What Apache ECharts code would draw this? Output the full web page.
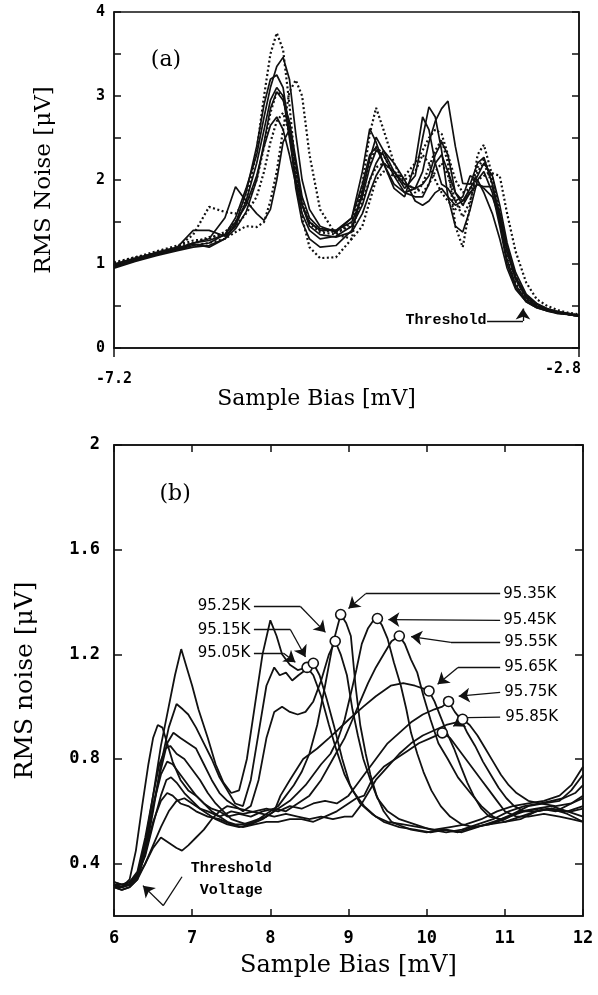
<!DOCTYPE html>
<html><head><meta charset="utf-8">
<script src="https://cdn.jsdelivr.net/npm/echarts@6/dist/echarts.min.js"></script>
<style>html,body{margin:0;padding:0;background:#fff}#c{width:598px;height:995px}</style>
</head><body><div id="c"></div>
<script>
// ---------- Panel (a) : shared x grid (mV) ----------
const xA = [-7.2,-7.0,-6.8,-6.6,-6.45,-6.3,-6.15,-6.05,
  -5.95,-5.85,-5.78,-5.72,-5.66,-5.6,-5.54,-5.48,
  -5.42,-5.35,-5.25,-5.1,-4.95,-4.85,-4.78,-4.72,
  -4.65,-4.55,-4.45,-4.35,-4.28,-4.22,-4.16,-4.1,
  -4.04,-3.97,-3.9,-3.83,-3.76,-3.7,-3.62,-3.55,
  -3.48,-3.4,-3.3,-3.2,-3.1,-3.0,-2.9,-2.8];
const aD1 = [1.02,1.08,1.13,1.2,1.35,1.68,1.62,1.6, 1.75,2.35,3.0,3.5,3.75,3.55,2.9,2.1, 1.55,1.2,1.07,1.08,1.3,1.95,2.55,2.86, 2.6,2.2,1.95,1.85,1.95,2.15,2.35,2.48, 2.2,1.45,1.2,1.7,2.3,2.42,2.05,1.6, 1.15,0.82,0.6,0.5,0.45,0.42,0.4,0.38];
const aD2 = [0.98,1.06,1.12,1.18,1.22,1.25,1.3,1.38, 1.45,1.44,1.5,1.75,2.1,2.6,3.05,3.19, 3.0,2.3,1.65,1.35,1.3,1.45,1.75,2.0, 2.1,2.05,2.05,2.2,2.35,2.5,2.6,2.55, 2.3,2.0,1.85,1.9,2.0,2.05,2.08,2.05, 1.6,1.15,0.78,0.58,0.5,0.45,0.42,0.4];
const aD3 = [1.0,1.08,1.15,1.22,1.28,1.3,1.38,1.5, 1.72,2.0,2.4,2.8,3.05,3.0,2.6,2.05, 1.7,1.48,1.38,1.35,1.5,1.9,2.2,2.4, 2.3,2.05,1.95,1.9,1.85,1.95,2.1,2.2, 2.05,1.75,1.56,1.75,2.1,2.2,1.95,1.55, 1.1,0.78,0.58,0.5,0.45,0.42,0.4,0.38];
const aD4 = [0.98,1.05,1.12,1.2,1.25,1.32,1.35,1.45, 1.6,1.8,2.1,2.45,2.7,2.8,2.55,2.1, 1.75,1.5,1.4,1.38,1.45,1.75,2.0,2.15, 2.2,2.1,2.0,2.1,2.3,2.2,2.0,1.85, 1.75,1.65,1.7,1.9,2.15,2.25,2.0,1.6, 1.2,0.85,0.62,0.52,0.46,0.43,0.41,0.39];
const aS1 = [0.97,1.05,1.12,1.17,1.22,1.25,1.35,1.55, 1.9,2.3,2.75,3.1,3.35,3.46,3.2,2.55, 2.0,1.65,1.45,1.38,1.55,2.1,2.61,2.45, 2.2,1.95,1.85,1.9,2.1,2.45,2.7,2.85, 2.94,2.4,1.96,1.95,2.2,2.27,1.95,1.5, 1.05,0.75,0.57,0.49,0.45,0.42,0.4,0.38];
const aS2 = [0.95,1.03,1.1,1.16,1.2,1.22,1.3,1.48, 1.85,2.4,2.9,3.2,3.25,3.1,2.6,1.9, 1.5,1.3,1.2,1.22,1.4,1.85,2.25,2.51, 2.35,2.1,1.9,2.05,2.5,2.87,2.75,2.35, 1.8,1.45,1.38,1.65,2.0,2.1,1.85,1.45, 1.0,0.72,0.55,0.48,0.44,0.42,0.4,0.38];
const aS3 = [0.98,1.06,1.14,1.2,1.4,1.4,1.33,1.45, 1.75,2.2,2.6,2.95,3.1,3.0,2.5,2.0, 1.7,1.5,1.4,1.4,1.55,1.95,2.3,2.39, 2.2,1.9,1.8,2.2,2.75,2.6,2.2,1.95, 1.9,1.75,1.8,2.05,2.0,1.85,1.6,1.3, 0.95,0.7,0.55,0.48,0.44,0.41,0.4,0.38];
const aS4 = [1.0,1.07,1.13,1.18,1.25,1.3,1.55,1.92, 1.75,1.6,1.52,1.65,2.0,2.45,2.6,2.2, 1.7,1.45,1.35,1.32,1.38,1.6,1.85,2.05, 2.2,2.1,1.95,1.9,1.95,2.05,2.3,2.45, 2.3,1.85,1.7,1.85,1.95,1.92,1.92,1.6, 1.2,0.85,0.62,0.52,0.46,0.43,0.41,0.39];
const aS5 = [0.96,1.04,1.11,1.17,1.24,1.2,1.3,1.42, 1.62,2.0,2.45,2.85,3.05,2.95,2.7,2.25, 1.8,1.55,1.42,1.4,1.5,1.8,2.15,2.35, 2.3,2.05,1.85,1.8,1.8,1.95,2.2,2.3, 2.1,1.85,1.75,1.9,2.05,2.2,2.05,1.7, 1.25,0.9,0.64,0.53,0.47,0.43,0.41,0.39];
const aS6 = [0.99,1.06,1.12,1.19,1.25,1.28,1.35,1.5, 1.7,2.05,2.4,2.65,2.75,2.6,2.3,1.95, 1.6,1.4,1.3,1.33,1.45,1.7,2.0,2.2, 2.35,2.2,2.0,1.75,1.7,1.75,1.85,1.9, 1.8,1.7,1.75,1.85,1.95,1.9,1.8,1.55, 1.15,0.82,0.6,0.5,0.45,0.42,0.4,0.38];
const aDotted = [aD1, aD2, aD3, aD4];
const aSolid = [aS1, aS2, aS3, aS4, aS5, aS6];

// ---------- Panel (b) : curves [bias mV, RMS noise uV] ----------
const b9505 = [[6.0,0.32],[6.1,0.31],[6.2,0.32],[6.3,0.36],[6.4,0.48],[6.5,0.66],[6.6,0.85],[6.7,1.0],[6.78,1.12],[6.86,1.22],[6.93,1.15],[7.0,1.08],[7.08,0.99],[7.2,0.88],[7.3,0.78],[7.4,0.71],[7.5,0.67],[7.6,0.68],[7.7,0.8],[7.8,1.0],[7.9,1.2],[8.0,1.33],[8.08,1.27],[8.15,1.2],[8.25,1.16],[8.35,1.14],[8.47,1.15],[8.55,1.12],[8.65,1.04],[8.75,0.93],[8.85,0.83],[8.95,0.74],[9.05,0.68],[9.2,0.62],[9.35,0.58],[9.5,0.56],[9.7,0.55],[9.9,0.54],[10.1,0.53],[10.3,0.54],[10.5,0.55],[10.7,0.57],[10.9,0.6],[11.1,0.62],[11.3,0.63],[11.5,0.64],[11.7,0.66],[11.85,0.7],[12.0,0.77]];
const b9515 = [[6.0,0.31],[6.1,0.30],[6.2,0.31],[6.3,0.34],[6.4,0.44],[6.5,0.6],[6.6,0.78],[6.7,0.92],[6.8,1.01],[6.88,0.99],[6.95,0.97],[7.05,0.92],[7.15,0.86],[7.25,0.8],[7.35,0.73],[7.45,0.68],[7.55,0.63],[7.65,0.62],[7.75,0.72],[7.85,0.9],[7.95,1.08],[8.05,1.15],[8.12,1.12],[8.2,1.13],[8.28,1.1],[8.36,1.12],[8.45,1.14],[8.55,1.166],[8.63,1.12],[8.72,1.03],[8.82,0.92],[8.92,0.8],[9.02,0.7],[9.15,0.63],[9.3,0.59],[9.45,0.56],[9.65,0.54],[9.85,0.53],[10.05,0.52],[10.25,0.53],[10.45,0.52],[10.65,0.54],[10.85,0.56],[11.05,0.58],[11.25,0.6],[11.45,0.61],[11.65,0.6],[11.85,0.63],[12.0,0.66]];
const b9525 = [[6.0,0.33],[6.1,0.32],[6.2,0.32],[6.3,0.35],[6.4,0.45],[6.5,0.62],[6.6,0.76],[6.68,0.86],[6.76,0.9],[6.85,0.88],[6.95,0.86],[7.05,0.84],[7.15,0.78],[7.25,0.72],[7.35,0.67],[7.45,0.64],[7.55,0.62],[7.65,0.6],[7.75,0.62],[7.85,0.72],[7.95,0.88],[8.05,0.98],[8.15,1.0],[8.25,0.98],[8.35,0.97],[8.45,0.98],[8.55,1.02],[8.65,1.1],[8.75,1.2],[8.83,1.25],[8.9,1.2],[8.98,1.12],[9.05,0.99],[9.12,0.89],[9.19,0.8],[9.28,0.72],[9.37,0.65],[9.5,0.6],[9.65,0.57],[9.85,0.55],[10.05,0.53],[10.25,0.52],[10.45,0.53],[10.65,0.55],[10.85,0.57],[11.05,0.6],[11.25,0.62],[11.45,0.63],[11.65,0.62],[11.85,0.63],[12.0,0.65]];
const b9535 = [[6.0,0.31],[6.1,0.31],[6.2,0.33],[6.3,0.37],[6.4,0.5],[6.5,0.66],[6.58,0.78],[6.66,0.84],[6.72,0.85],[6.8,0.82],[6.9,0.8],[7.0,0.76],[7.1,0.72],[7.2,0.67],[7.3,0.63],[7.4,0.6],[7.5,0.57],[7.6,0.56],[7.7,0.55],[7.8,0.56],[7.9,0.58],[8.0,0.6],[8.1,0.62],[8.2,0.66],[8.3,0.7],[8.4,0.75],[8.5,0.82],[8.6,0.93],[8.7,1.08],[8.8,1.24],[8.9,1.352],[8.97,1.32],[9.03,1.27],[9.09,1.08],[9.15,0.93],[9.22,0.82],[9.28,0.74],[9.36,0.66],[9.45,0.6],[9.55,0.56],[9.67,0.545],[9.8,0.53],[10.0,0.52],[10.2,0.53],[10.4,0.52],[10.6,0.54],[10.8,0.55],[11.0,0.57],[11.2,0.6],[11.4,0.61],[11.6,0.62],[11.8,0.6],[12.0,0.62]];
const b9545 = [[6.0,0.32],[6.1,0.31],[6.2,0.32],[6.3,0.36],[6.4,0.47],[6.5,0.62],[6.6,0.74],[6.68,0.79],[6.75,0.78],[6.85,0.74],[6.95,0.7],[7.05,0.66],[7.15,0.63],[7.25,0.6],[7.35,0.58],[7.45,0.56],[7.55,0.55],[7.65,0.55],[7.75,0.56],[7.85,0.57],[7.95,0.58],[8.05,0.6],[8.15,0.62],[8.25,0.64],[8.35,0.67],[8.45,0.7],[8.55,0.74],[8.65,0.78],[8.77,0.82],[8.87,0.88],[8.95,0.95],[9.03,1.05],[9.1,1.14],[9.17,1.24],[9.25,1.3],[9.32,1.33],[9.37,1.337],[9.43,1.31],[9.5,1.26],[9.58,1.17],[9.67,1.08],[9.74,0.99],[9.8,0.9],[9.88,0.82],[9.96,0.75],[10.06,0.68],[10.18,0.62],[10.3,0.58],[10.45,0.55],[10.6,0.54],[10.8,0.55],[11.0,0.56],[11.2,0.58],[11.4,0.6],[11.6,0.61],[11.8,0.6],[12.0,0.58]];
const b9555 = [[6.0,0.31],[6.1,0.31],[6.2,0.34],[6.28,0.45],[6.36,0.62],[6.44,0.78],[6.5,0.88],[6.56,0.93],[6.62,0.92],[6.68,0.86],[6.75,0.79],[6.85,0.72],[6.95,0.68],[7.05,0.66],[7.15,0.63],[7.25,0.61],[7.35,0.6],[7.45,0.58],[7.6,0.59],[7.75,0.58],[7.9,0.6],[8.05,0.61],[8.2,0.6],[8.35,0.63],[8.5,0.66],[8.65,0.72],[8.8,0.8],[8.95,0.88],[9.05,0.95],[9.15,1.02],[9.25,1.09],[9.35,1.15],[9.45,1.2],[9.55,1.25],[9.65,1.27],[9.72,1.24],[9.8,1.18],[9.88,1.13],[9.96,1.04],[10.05,0.95],[10.15,0.86],[10.27,0.8],[10.4,0.73],[10.56,0.67],[10.7,0.62],[10.85,0.58],[11.0,0.56],[11.2,0.57],[11.4,0.6],[11.6,0.61],[11.8,0.59],[12.0,0.56]];
const b9565 = [[6.0,0.32],[6.1,0.32],[6.2,0.33],[6.3,0.36],[6.4,0.43],[6.5,0.55],[6.6,0.66],[6.67,0.72],[6.73,0.73],[6.8,0.71],[6.9,0.67],[7.0,0.64],[7.1,0.61],[7.2,0.59],[7.3,0.57],[7.45,0.55],[7.6,0.54],[7.75,0.55],[7.9,0.57],[8.05,0.6],[8.13,0.66],[8.25,0.72],[8.42,0.8],[8.6,0.84],[8.75,0.88],[8.86,0.91],[9.0,0.95],[9.19,1.0],[9.35,1.04],[9.54,1.08],[9.7,1.09],[9.85,1.08],[9.95,1.07],[10.03,1.06],[10.1,1.02],[10.18,0.96],[10.26,0.9],[10.35,0.84],[10.44,0.77],[10.52,0.71],[10.6,0.66],[10.7,0.61],[10.8,0.58],[10.95,0.57],[11.1,0.59],[11.3,0.62],[11.5,0.63],[11.7,0.64],[11.85,0.68],[12.0,0.74]];
const b9575 = [[6.0,0.33],[6.1,0.32],[6.2,0.33],[6.3,0.35],[6.4,0.4],[6.5,0.47],[6.6,0.54],[6.7,0.6],[6.8,0.64],[6.9,0.65],[7.0,0.63],[7.1,0.61],[7.2,0.6],[7.35,0.58],[7.5,0.6],[7.65,0.59],[7.8,0.6],[7.95,0.61],[8.1,0.6],[8.25,0.62],[8.4,0.61],[8.55,0.63],[8.7,0.64],[8.85,0.63],[9.0,0.66],[9.1,0.7],[9.2,0.74],[9.35,0.8],[9.5,0.86],[9.65,0.9],[9.8,0.94],[9.95,0.97],[10.1,0.99],[10.2,1.0],[10.28,1.02],[10.36,0.98],[10.44,0.95],[10.52,0.9],[10.62,0.85],[10.72,0.79],[10.82,0.74],[10.92,0.69],[11.02,0.65],[11.12,0.62],[11.25,0.6],[11.4,0.6],[11.55,0.61],[11.7,0.6],[11.85,0.6],[12.0,0.61]];
const b9585 = [[6.0,0.31],[6.1,0.3],[6.2,0.31],[6.3,0.34],[6.4,0.4],[6.5,0.46],[6.6,0.5],[6.7,0.48],[6.8,0.46],[6.87,0.45],[6.95,0.47],[7.05,0.5],[7.15,0.53],[7.25,0.57],[7.35,0.6],[7.45,0.62],[7.6,0.61],[7.75,0.6],[7.9,0.59],[8.05,0.58],[8.2,0.59],[8.35,0.58],[8.5,0.57],[8.65,0.58],[8.8,0.57],[8.95,0.58],[9.05,0.58],[9.15,0.62],[9.25,0.67],[9.35,0.72],[9.5,0.77],[9.65,0.82],[9.8,0.86],[9.95,0.89],[10.1,0.91],[10.25,0.93],[10.38,0.94],[10.46,0.952],[10.55,0.93],[10.65,0.89],[10.75,0.84],[10.85,0.79],[10.95,0.74],[11.05,0.7],[11.15,0.67],[11.3,0.64],[11.45,0.63],[11.6,0.64],[11.75,0.65],[11.9,0.67],[12.0,0.7]];
const bExtra = [[6.0,0.32],[6.1,0.31],[6.2,0.32],[6.3,0.35],[6.4,0.44],[6.5,0.56],[6.6,0.64],[6.68,0.67],[6.75,0.66],[6.85,0.63],[6.95,0.62],[7.05,0.6],[7.2,0.58],[7.35,0.57],[7.5,0.55],[7.65,0.54],[7.8,0.55],[7.95,0.56],[8.1,0.56],[8.25,0.57],[8.4,0.57],[8.55,0.56],[8.7,0.58],[8.85,0.6],[9.0,0.63],[9.1,0.65],[9.2,0.66],[9.3,0.72],[9.45,0.77],[9.6,0.8],[9.75,0.83],[9.9,0.86],[10.05,0.88],[10.2,0.9],[10.3,0.88],[10.4,0.84],[10.5,0.8],[10.6,0.76],[10.7,0.72],[10.8,0.68],[10.9,0.64],[11.0,0.6],[11.15,0.58],[11.3,0.58],[11.5,0.59],[11.7,0.58],[11.85,0.57],[12.0,0.56]];
const bCurves = [b9505,b9515,b9525,b9535,b9545,b9555,b9565,b9575,b9585,bExtra];
const bPeaks = [[8.47,1.15],[8.55,1.166],[8.83,1.25],[8.90,1.352],[9.37,1.337],[9.65,1.27],[10.03,1.06],[10.28,1.02],[10.46,0.952],[10.2,0.90]];

// temperature labels: [text, x, y] (left edge of text)
const tempLabels = [["95.25K",7.064,1.383],["95.15K",7.064,1.291],["95.05K",7.064,1.204],
  ["95.35K",10.974,1.432],["95.45K",10.974,1.330],["95.55K",10.987,1.246],
  ["95.65K",10.987,1.150],["95.75K",10.987,1.055],["95.85K",11.0,0.960]];
// leader arrows (data coordinates), arrowhead at last point
const tempArrows = [
  [[7.79,1.383],[8.385,1.383],[8.705,1.284]],
  [[7.79,1.295],[8.256,1.295],[8.45,1.19]],
  [[7.79,1.204],[8.17,1.204],[8.32,1.17]],
  [[10.94,1.432],[9.22,1.432],[9.0,1.375]],
  [[10.94,1.330],[9.51,1.333]],
  [[10.94,1.246],[10.31,1.246],[9.80,1.268]],
  [[10.94,1.150],[10.40,1.150],[10.14,1.086]],
  [[10.94,1.055],[10.41,1.040]],
  [[10.94,0.960],[10.52,0.958],[10.34,0.925]]
];
const thrArrowB = [[6.87,0.35],[6.63,0.24],[6.37,0.316]];
const thrArrowA = [[-3.67,0.32],[-3.33,0.32],[-3.33,0.47]];

const aTicksX = [-7.2,-2.8];
const bTicksY = [0.4,0.8,1.2,1.6,2];

const tickFont = 'DejaVu Sans Mono';
const serif = 'DejaVu Serif';
const ink = '#111';

// split polylines into plain segments + a final arrow segment
function segs(polys){
  const plain = [], head = [];
  polys.forEach(p => {
    for (let i = 0; i < p.length - 1; i++) {
      const s = {coords:[p[i], p[i+1]]};
      if (i === p.length - 2) head.push(s); else plain.push(s);
    }
  });
  return {plain, head};
}
function arrowSeries(xi, yi, polys){
  const s = segs(polys);
  return [
    {type:'lines', coordinateSystem:'cartesian2d', xAxisIndex:xi, yAxisIndex:yi, symbol:['none','none'],
     lineStyle:{color:ink, width:1.3, opacity:1, curveness:0}, data:s.plain, z:4, silent:true},
    {type:'lines', coordinateSystem:'cartesian2d', xAxisIndex:xi, yAxisIndex:yi, symbol:['none','arrow'], symbolSize:[7,11],
     lineStyle:{color:ink, width:1.3, opacity:1, curveness:0}, data:s.head, z:4, silent:true}
  ];
}

const series = [];
aSolid.forEach(ys => series.push({type:'line', xAxisIndex:0, yAxisIndex:0, symbol:'none', smooth:false,
  lineStyle:{color:ink, width:1.7}, data: xA.map((x,i)=>[x, ys[i]]), z:3}));
aDotted.forEach(ys => series.push({type:'line', xAxisIndex:0, yAxisIndex:0, symbol:'none', smooth:false,
  lineStyle:{color:ink, width:2.2, type:[2,2.5]}, data: xA.map((x,i)=>[x, ys[i]]), z:3}));
bCurves.forEach(d => series.push({type:'line', xAxisIndex:1, yAxisIndex:2, symbol:'none', smooth:false,
  lineStyle:{color:ink, width:1.8}, data: d, z:3}));
arrowSeries(1, 2, tempArrows.concat([thrArrowB])).forEach(s => series.push(s));
arrowSeries(0, 0, [thrArrowA]).forEach(s => series.push(s));
series.push({type:'scatter', xAxisIndex:1, yAxisIndex:2, symbol:'circle', symbolSize:10,
  itemStyle:{color:'#fff', borderColor:ink, borderWidth:1.6, opacity:1}, data: bPeaks, z:6});
// text labels anchored in data space
function txt(xi, yi, items){
  return {type:'scatter', xAxisIndex:xi, yAxisIndex:yi, symbolSize:1,
    itemStyle:{color:'rgba(255,255,255,0)', opacity:1}, silent:true, z:7, data: items};
}
series.push(txt(1,2, tempLabels.map(t=>({value:[t[1],t[2]], label:{show:true, position:'right', distance:0,
  formatter:t[0], fontFamily:'DejaVu Sans', fontSize:15, color:'#000', opacity:1}}))));
series.push(txt(1,2, [
  {value:[7.5,0.339], label:{show:true, position:'inside', formatter:'Threshold\nVoltage', align:'center',
    lineHeight:22, fontFamily:'Liberation Mono', fontWeight:'bold', fontSize:15, color:'#000', opacity:1}},
  {value:[6.782,1.81], label:{show:true, position:'inside', formatter:'(b)', fontFamily:serif, fontSize:22, color:'#000', opacity:1}}
]));
series.push(txt(0,0, [
  {value:[-4.447,0.333], label:{show:true, position:'right', distance:0, formatter:'Threshold',
    fontFamily:'Liberation Mono', fontWeight:'bold', fontSize:15, color:'#000', opacity:1}},
  {value:[-6.708,3.43], label:{show:true, position:'inside', formatter:'(a)', fontFamily:serif, fontSize:22, color:'#000', opacity:1}}
]));

const axLine = {show:true, lineStyle:{color:ink, width:1.5}};
const option = {
  animation:false,
  backgroundColor:'#fff',
  grid:[
    {left:114, top:12, width:465, height:336, show:true, borderColor:ink, borderWidth:1.5, backgroundColor:'transparent'},
    {left:114, top:445, width:469, height:471, show:true, borderColor:ink, borderWidth:1.5, backgroundColor:'transparent'}
  ],
  xAxis:[
    {type:'value', gridIndex:0, min:-7.2, max:-2.8, position:'bottom', axisLine:axLine, splitLine:{show:false},
     axisTick:{show:true, customValues:aTicksX, inside:false, length:9, lineStyle:{color:ink, width:1.5}},
     axisLabel:{show:true, customValues:aTicksX, showMinLabel:true, showMaxLabel:true, margin:12,
       formatter:v=> v < -5 ? '{l|'+v.toFixed(1)+'}' : '{r|'+v.toFixed(1)+'}',
       rich:{l:{fontFamily:tickFont, fontWeight:'bold', fontSize:15, color:'#000', padding:[12,0,0,0]},
             r:{fontFamily:tickFont, fontWeight:'bold', fontSize:15, color:'#000', padding:[2,32,0,0]}}},
     name:'Sample Bias [mV]', nameLocation:'middle', nameGap:24,
     nameTextStyle:{fontFamily:serif, fontSize:22, color:'#000', padding:[0,60,0,0]}},
    {type:'value', gridIndex:1, min:6, max:12, interval:1, position:'bottom', axisLine:axLine, splitLine:{show:false},
     axisTick:{show:true, inside:true, length:7, lineStyle:{color:ink, width:1.5}},
     axisLabel:{show:true, margin:14, fontFamily:tickFont, fontWeight:'bold', fontSize:17, color:'#000'},
     name:'Sample Bias [mV]', nameLocation:'middle', nameGap:38,
     nameTextStyle:{fontFamily:serif, fontSize:24, color:'#000'}},
    {type:'value', gridIndex:1, min:6, max:12, interval:1, position:'top', axisLine:axLine, splitLine:{show:false},
     axisTick:{show:true, inside:true, length:7, lineStyle:{color:ink, width:1.5}}, axisLabel:{show:false}}
  ],
  yAxis:[
    {type:'value', gridIndex:0, min:0, max:4, interval:0.5, position:'left', axisLine:axLine, splitLine:{show:false},
     axisTick:{show:true, inside:true, length:7, lineStyle:{color:ink, width:1.5}},
     axisLabel:{show:true, margin:9, formatter:v=> Number.isInteger(v) ? String(v) : '',
       fontFamily:tickFont, fontWeight:'bold', fontSize:15, color:'#000'},
     name:'RMS Noise [μV]', nameLocation:'middle', nameGap:58, nameRotate:90,
     nameTextStyle:{fontFamily:serif, fontSize:23, color:'#000'}},
    {type:'value', gridIndex:0, min:0, max:4, interval:0.5, position:'right', axisLine:axLine, splitLine:{show:false},
     axisTick:{show:true, inside:true, length:7, lineStyle:{color:ink, width:1.5}}, axisLabel:{show:false}},
    {type:'value', gridIndex:1, min:0.2, max:2, position:'left', axisLine:axLine, splitLine:{show:false},
     axisTick:{show:true, customValues:bTicksY, inside:true, length:8, lineStyle:{color:ink, width:1.5}},
     axisLabel:{show:true, customValues:bTicksY, margin:14, formatter:v=> v===2 ? '2' : v.toFixed(1),
       fontFamily:tickFont, fontWeight:'bold', fontSize:17, color:'#000'},
     name:'RMS noise [μV]', nameLocation:'middle', nameGap:76, nameRotate:90,
     nameTextStyle:{fontFamily:serif, fontSize:25, color:'#000'}},
    {type:'value', gridIndex:1, min:0.2, max:2, position:'right', axisLine:axLine, splitLine:{show:false},
     axisTick:{show:true, customValues:bTicksY, inside:true, length:8, lineStyle:{color:ink, width:1.5}}, axisLabel:{show:false}}
  ],
  series: series
};
const chart = echarts.init(document.getElementById('c'), null, {renderer:'canvas'});
chart.setOption(option);
</script></body></html>
